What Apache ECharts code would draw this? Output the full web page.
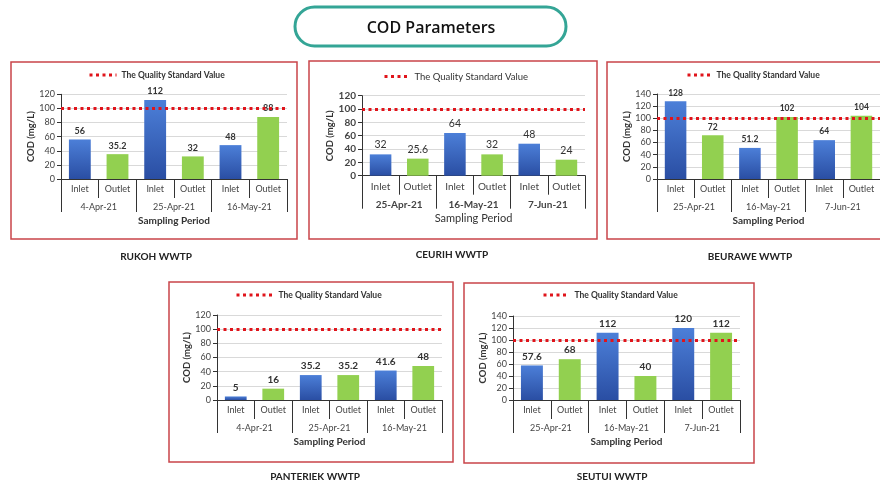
<!DOCTYPE html>
<html><head><meta charset="utf-8">
<script src="https://cdn.jsdelivr.net/npm/echarts@6/dist/echarts.min.js"></script>
<style>html,body{margin:0;padding:0;background:#fff}#c{width:880px;height:483px}</style>
</head><body><div id="c"></div>
<script>
// ---- data ----
const pageTitle = 'COD Parameters';
const legendName = 'The Quality Standard Value';
const yAxisName = 'COD (mg/L)';
const xAxisName = 'Sampling Period';
const pointLabels = ['Inlet', 'Outlet', 'Inlet', 'Outlet', 'Inlet', 'Outlet'];
const standardValue = 100;

const rukohName = 'RUKOH WWTP';
const rukohDates = ['4-Apr-21', '25-Apr-21', '16-May-21'];
const rukohValues = [56, 35.2, 112, 32, 48, 88];
const rukohYMax = 120;

const ceurihName = 'CEURIH WWTP';
const ceurihDates = ['25-Apr-21', '16-May-21', '7-Jun-21'];
const ceurihValues = [32, 25.6, 64, 32, 48, 24];
const ceurihYMax = 120;

const beuraweName = 'BEURAWE WWTP';
const beuraweDates = ['25-Apr-21', '16-May-21', '7-Jun-21'];
const beuraweValues = [128, 72, 51.2, 102, 64, 104];
const beuraweYMax = 140;

const panteriekName = 'PANTERIEK WWTP';
const panteriekDates = ['4-Apr-21', '25-Apr-21', '16-May-21'];
const panteriekValues = [5, 16, 35.2, 35.2, 41.6, 48];
const panteriekYMax = 120;

const seutuiName = 'SEUTUI WWTP';
const seutuiDates = ['25-Apr-21', '16-May-21', '7-Jun-21'];
const seutuiValues = [57.6, 68, 112, 40, 120, 112];
const seutuiYMax = 140;

const yInterval = 20;

// ---- layout / style ----
const FONT = 'Lato, "Open Sans", sans-serif';
const layouts = [
  {grid:{left:61, top:94.3, width:226, height:84.7}, box:[11,62,286,177], title:[156,257], leg:[88,70.5,27], fs:9, barFs:9, barBold:true, legFs:8.5, legBold:true, yBold:false, dateBold:false},
  {grid:{left:362, top:95.7, width:223, height:80}, box:[309,61,288,178], title:[452,255], leg:[383,71.5,25], fs:10, barFs:10.5, barBold:false, legFs:9.5, legBold:false, yBold:true, dateBold:true},
  {grid:{left:657, top:94, width:224, height:85}, box:[607,62,300,177], title:[750,257], leg:[686,70.5,24], fs:9, barFs:8.5, barBold:true, legFs:8.5, legBold:true, yBold:false, dateBold:false},
  {grid:{left:217, top:315, width:225, height:85}, box:[169,282,284,180], title:[315,477], leg:[235,290.5,37], fs:9, barFs:10, barBold:true, legFs:8.5, legBold:true, yBold:false, dateBold:false},
  {grid:{left:513, top:316, width:227, height:84}, box:[464,283,290,180], title:[612,477], leg:[542,290.5,26], fs:9, barFs:10, barBold:true, legFs:8.5, legBold:true, yBold:false, dateBold:false}
];

const panels = [
  {name:rukohName, dates:rukohDates, values:rukohValues, yMax:rukohYMax},
  {name:ceurihName, dates:ceurihDates, values:ceurihValues, yMax:ceurihYMax},
  {name:beuraweName, dates:beuraweDates, values:beuraweValues, yMax:beuraweYMax},
  {name:panteriekName, dates:panteriekDates, values:panteriekValues, yMax:panteriekYMax},
  {name:seutuiName, dates:seutuiDates, values:seutuiValues, yMax:seutuiYMax}
];

const blue = {type:'linear', x:0, y:0, x2:0, y2:1, colorStops:[{offset:0, color:'#4c7fd8'}, {offset:1, color:'#2a4ea3'}]};
const green = '#92d050';
const red = '#e0141b';
const ink = '#333333';

const option = {
  animation: false,
  backgroundColor: '#ffffff',
  textStyle: {fontFamily: FONT},
  grid: [], xAxis: [], yAxis: [], series: [], legend: [],
  graphic: []
};

panels.forEach((p, i) => {
  const L = layouts[i];
  option.grid.push(Object.assign({containLabel:false}, L.grid));
  option.xAxis.push({
    gridIndex:i, type:'category', position:'bottom', data:pointLabels,
    axisLine:{show:true, onZero:false, lineStyle:{color:ink, width:1}},
    axisTick:{show:true, interval:0, length:19, lineStyle:{color:ink}},
    axisLabel:{interval:0, fontSize:L.fs, color:'#444', margin:6, fontFamily:FONT},
    splitLine:{show:false}
  });
  option.xAxis.push({
    gridIndex:i, type:'category', position:'bottom', data:p.dates,
    axisLine:{show:false},
    axisTick:{show:true, interval:0, length:33, lineStyle:{color:ink}},
    axisLabel:{interval:0, fontSize:L.fs, color:'#444', margin:24, fontWeight:L.dateBold?'bold':'normal', fontFamily:FONT},
    name:xAxisName, nameLocation:'middle', nameGap:37,
    nameTextStyle:{fontSize:L.fs+1, fontWeight:L.dateBold?'normal':'bold', color:ink, fontFamily:FONT},
    splitLine:{show:false}
  });
  option.yAxis.push({
    gridIndex:i, type:'value', min:0, max:p.yMax, interval:yInterval,
    name:yAxisName, nameLocation:'middle', nameGap:24,
    nameTextStyle:{fontSize:9.5, fontWeight:'bold', color:ink, fontFamily:FONT},
    axisLine:{show:true, lineStyle:{color:ink}},
    axisTick:{show:true, length:4, lineStyle:{color:ink}},
    axisLabel:{fontSize:L.fs, color:'#444', margin:6, fontWeight:L.yBold?'bold':'normal', fontFamily:FONT},
    splitLine:{show:true, lineStyle:{color:'#d9d9d9', width:1}}
  });
  option.series.push({
    type:'bar', name:p.name, xAxisIndex:2*i, yAxisIndex:i, barWidth:'58%',
    data:p.values.map((v, k) => ({value:v, itemStyle:{color: pointLabels[k] === 'Inlet' ? blue : green}})),
    label:{show:true, position:'top', distance:4, fontSize:L.barFs, fontWeight:L.barBold?'bold':'normal', color:ink, fontFamily:FONT},
    z:2
  });
  option.series.push({
    type:'line', name:legendName, xAxisIndex:2*i, yAxisIndex:i, data:[], symbol:'none', showSymbol:false,
    lineStyle:{color:red, width:3, type:[3,3.5]},
    itemStyle:{color:red},
    markLine:{silent:true, symbol:['none','none'], label:{show:false},
      lineStyle:{color:red, width:3, type:[3,3.5]},
      emphasis:{disabled:true},
      data:[{yAxis:standardValue}]},
    z:5
  });
  option.legend.push({
    left:L.leg[0], top:L.leg[1], padding:0, itemWidth:L.leg[2], itemHeight:8,
    selectedMode:false, data:[legendName],
    itemStyle:{opacity:0},
    lineStyle:{color:red, width:3, type:[3,3.5]},
    textStyle:{fontSize:L.legFs, fontWeight:L.legBold?'bold':'normal', color:ink, fontFamily:FONT}
  });
  option.graphic.push({
    type:'rect', silent:true, z:-1,
    shape:{x:L.box[0], y:L.box[1], width:L.box[2], height:L.box[3]},
    style:{fill:'none', stroke:'#c9444a', lineWidth:1.5}
  });
  option.graphic.push({
    type:'text', silent:true, x:L.title[0], y:L.title[1],
    style:{text:p.name, fill:'#222', font:'bold 10px ' + FONT, align:'center', verticalAlign:'middle'}
  });
});

option.graphic.push({
  type:'rect', silent:true,
  shape:{x:295, y:7, width:271, height:39, r:19.5},
  style:{fill:'#ffffff', stroke:'#34a596', lineWidth:3}
});
option.graphic.push({
  type:'text', silent:true, x:431, y:28,
  style:{text:pageTitle, fill:'#111', font:'600 16px "Open Sans", sans-serif', align:'center', verticalAlign:'middle'}
});

const chart = echarts.init(document.getElementById('c'), null, {renderer:'canvas'});
chart.setOption(option);
</script>
</body></html>
